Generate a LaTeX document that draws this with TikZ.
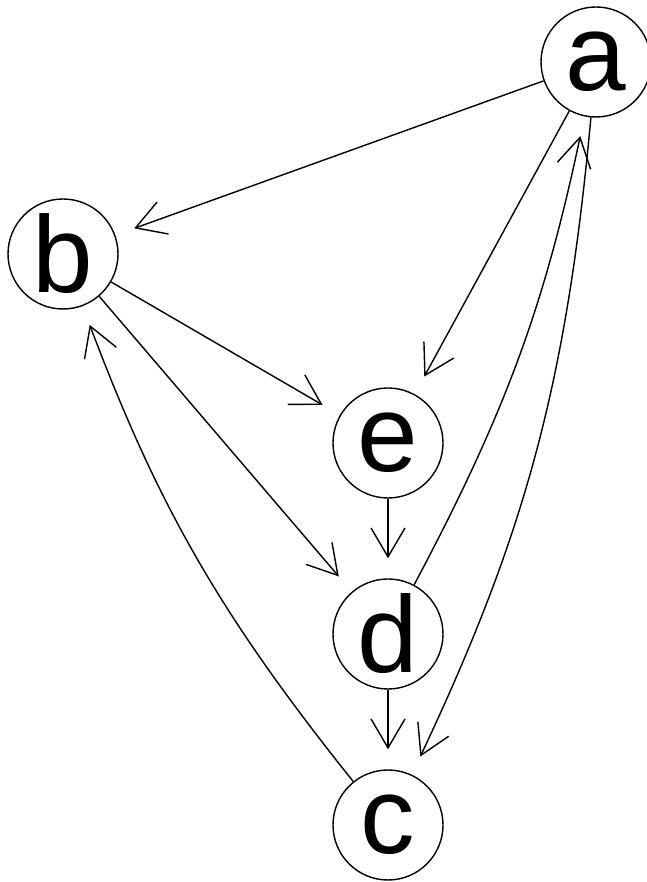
\documentclass[tikz,border=0pt]{standalone}
\usepackage{fontspec}
\setmainfont{Liberation Sans}
\usetikzlibrary{arrows.meta}

\begin{document}
\begin{tikzpicture}[
  vertex/.style={draw,circle,line width=0.8pt,minimum size=2.2cm,inner sep=0pt,font=\fontsize{62}{62}\selectfont},
  edge/.style={line width=0.8pt,-{Straight Barb[length=0.58cm,width=0.68cm]},shorten >=0.4cm}]
\useasboundingbox (0,0) rectangle (12.94,17.64);
\node[vertex] (a) at (11.92,16.40) {a};
\node[vertex] (b) at (1.26,12.56) {b};
\node[vertex] (e) at (7.76,8.78) {e};
\node[vertex] (d) at (7.76,4.96) {d};
\node[vertex] (c) at (7.76,1.14) {c};
\draw[edge] (a) -- (b);
\draw[edge] (a) -- (e);
\draw[edge] (a) to[bend left=10] (c);
\draw[edge] (d) to[bend right=8] (a);
\draw[edge] (b) -- (e);
\draw[edge] (b) -- (d);
\draw[edge] (e) -- (d);
\draw[edge] (d) -- (c);
\draw[edge] (c) to[bend left=9] (b);
\end{tikzpicture}
\end{document}
